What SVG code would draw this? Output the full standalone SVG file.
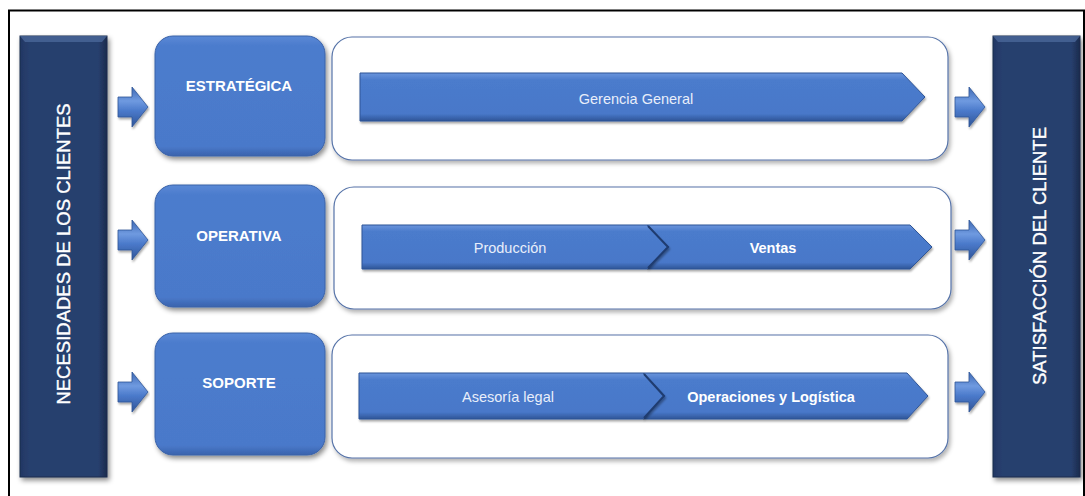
<svg xmlns="http://www.w3.org/2000/svg" width="1085" height="496" viewBox="0 0 1085 496">
  <defs>
    <style>
      .frame { fill: none; stroke: #000; stroke-width: 2; }
      .bar { fill: url(#barGrad); stroke: #1b2b4d; stroke-width: 1; filter: url(#shadow); }
      .barHi { fill: #4a6699; opacity: 0.8; }
      .cat { fill: url(#catGrad); stroke: #3a62a8; stroke-width: 1; filter: url(#shadow); }
      .cont { fill: #fff; stroke: #5673a8; stroke-width: 1.2; filter: url(#shadowLight); }
      .band { fill: url(#bandGrad); stroke: #2f5597; stroke-width: 1; filter: url(#shadowSmall); }
      .join { fill: none; stroke: #1f3c70; stroke-width: 2; }
      .arrow { fill: url(#arrowGrad); stroke: #2f5597; stroke-width: 0.8; filter: url(#shadowSmall); }
      .catText { font-family: "Liberation Sans", Arial, sans-serif; font-weight: bold; font-size: 15px; fill: #fff; text-anchor: middle; }
      .bandText { font-family: "Liberation Sans", Arial, sans-serif; font-size: 14.5px; fill: #e8eefa; text-anchor: middle; }
      .bandBold { font-weight: bold; fill: #fff; }
      .barText { font-family: "Liberation Sans", Arial, sans-serif; font-size: 18.5px; fill: #fff; stroke: #fff; stroke-width: 0.35; text-anchor: middle; }
    </style>
    <linearGradient id="barGrad" x1="0" y1="0" x2="1" y2="0">
      <stop offset="0" stop-color="#223763"/>
      <stop offset="0.1" stop-color="#283f6e"/>
      <stop offset="0.9" stop-color="#283f6e"/>
      <stop offset="1" stop-color="#1a2a4c"/>
    </linearGradient>
    <linearGradient id="catGrad" x1="0" y1="0" x2="0" y2="1">
      <stop offset="0" stop-color="#5a89d6"/>
      <stop offset="0.08" stop-color="#4c7ccd"/>
      <stop offset="0.92" stop-color="#4a79ca"/>
      <stop offset="1" stop-color="#3a63ad"/>
    </linearGradient>
    <linearGradient id="bandGrad" x1="0" y1="0" x2="0" y2="1">
      <stop offset="0" stop-color="#6a95dc"/>
      <stop offset="0.15" stop-color="#4b7bcc"/>
      <stop offset="0.85" stop-color="#4878c9"/>
      <stop offset="1" stop-color="#2f5597"/>
    </linearGradient>
    <linearGradient id="arrowGrad" x1="0" y1="0" x2="0" y2="1">
      <stop offset="0" stop-color="#3d68b3"/>
      <stop offset="0.35" stop-color="#6f9ae0"/>
      <stop offset="0.6" stop-color="#4a79ca"/>
      <stop offset="1" stop-color="#2f5597"/>
    </linearGradient>
    <filter id="shadow" x="-10%" y="-10%" width="125%" height="125%">
      <feDropShadow dx="2" dy="3" stdDeviation="2.5" flood-color="#000" flood-opacity="0.45"/>
    </filter>
    <filter id="shadowLight" x="-5%" y="-10%" width="110%" height="125%">
      <feDropShadow dx="2" dy="3" stdDeviation="2" flood-color="#000" flood-opacity="0.3"/>
    </filter>
    <filter id="shadowSmall" x="-5%" y="-20%" width="110%" height="150%">
      <feDropShadow dx="1" dy="2" stdDeviation="1.2" flood-color="#000" flood-opacity="0.35"/>
    </filter>
  </defs>

  <rect width="1085" height="496" fill="#fff"/>
  <rect class="frame" x="9" y="10.5" width="1075" height="500"/>

  <g id="necesidades">
    <rect class="bar" x="20" y="36" width="87" height="441"/>
    <polygon class="barHi" points="20,36 107,36 102,42 25,42"/>
    <text class="barText" transform="translate(70,254) rotate(-90)">NECESIDADES  DE LOS CLIENTES</text>
  </g>

  <g id="satisfaccion">
    <rect class="bar" x="993" y="36" width="87" height="441"/>
    <polygon class="barHi" points="993,36 1080,36 1075,42 998,42"/>
    <text class="barText" transform="translate(1046,256) rotate(-90)">SATISFACCIÓN DEL CLIENTE</text>
  </g>

  <g id="estrategica">
    <rect class="cat" x="155" y="36" width="170" height="120" rx="18"/>
    <text class="catText" x="239" y="91">ESTRATÉGICA</text>
  </g>
  <g id="operativa">
    <rect class="cat" x="155" y="185" width="170" height="122" rx="18"/>
    <text class="catText" x="239" y="241">OPERATIVA</text>
  </g>
  <g id="soporte">
    <rect class="cat" x="155" y="333" width="170" height="122" rx="18"/>
    <text class="catText" x="239" y="388">SOPORTE</text>
  </g>

  <g id="proceso-estrategico">
    <rect class="cont" x="332" y="37" width="616" height="123" rx="20"/>
    <g id="gerencia-general">
      <polygon class="band" points="360,73 902,73 925,97 902,121 360,121"/>
      <text class="bandText" x="636" y="104">Gerencia General</text>
    </g>
  </g>

  <g id="proceso-operativo">
    <rect class="cont" x="334" y="187" width="617" height="122" rx="20"/>
    <g id="ventas">
      <polygon class="band" points="647,225 910,225 932,247 910,269 647,269 669,247"/>
      <text class="bandText bandBold" x="773" y="253">Ventas</text>
    </g>
    <g id="produccion">
      <polygon class="band" points="362,225 647,225 669,247 647,269 362,269"/>
      <polyline class="join" points="648,226 668,247 648,268"/>
      <text class="bandText" x="510" y="253">Producción</text>
    </g>
  </g>

  <g id="proceso-soporte">
    <rect class="cont" x="332" y="335" width="616" height="123" rx="20"/>
    <g id="operaciones-logistica">
      <polygon class="band" points="643,373 907,373 928,396 907,419 643,419 665,396"/>
      <text class="bandText bandBold" x="771" y="402">Operaciones y Logística</text>
    </g>
    <g id="asesoria-legal">
      <polygon class="band" points="359,373 643,373 665,396 643,419 359,419"/>
      <polyline class="join" points="644,374 664,396 644,418"/>
      <text class="bandText" x="508" y="402">Asesoría legal</text>
    </g>
  </g>

  <g id="connectors">
    <polygon class="arrow" points="118,97 132,97 132,87 148,107 132,127 132,117 118,117"/>
    <polygon class="arrow" points="118,230 132,230 132,220 148,240 132,260 132,250 118,250"/>
    <polygon class="arrow" points="118,382 132,382 132,372 148,392 132,412 132,402 118,402"/>
    <polygon class="arrow" points="955,97 969,97 969,87 985,107 969,127 969,117 955,117"/>
    <polygon class="arrow" points="955,230 969,230 969,220 985,240 969,260 969,250 955,250"/>
    <polygon class="arrow" points="955,382 969,382 969,372 985,392 969,412 969,402 955,402"/>
  </g>
</svg>
